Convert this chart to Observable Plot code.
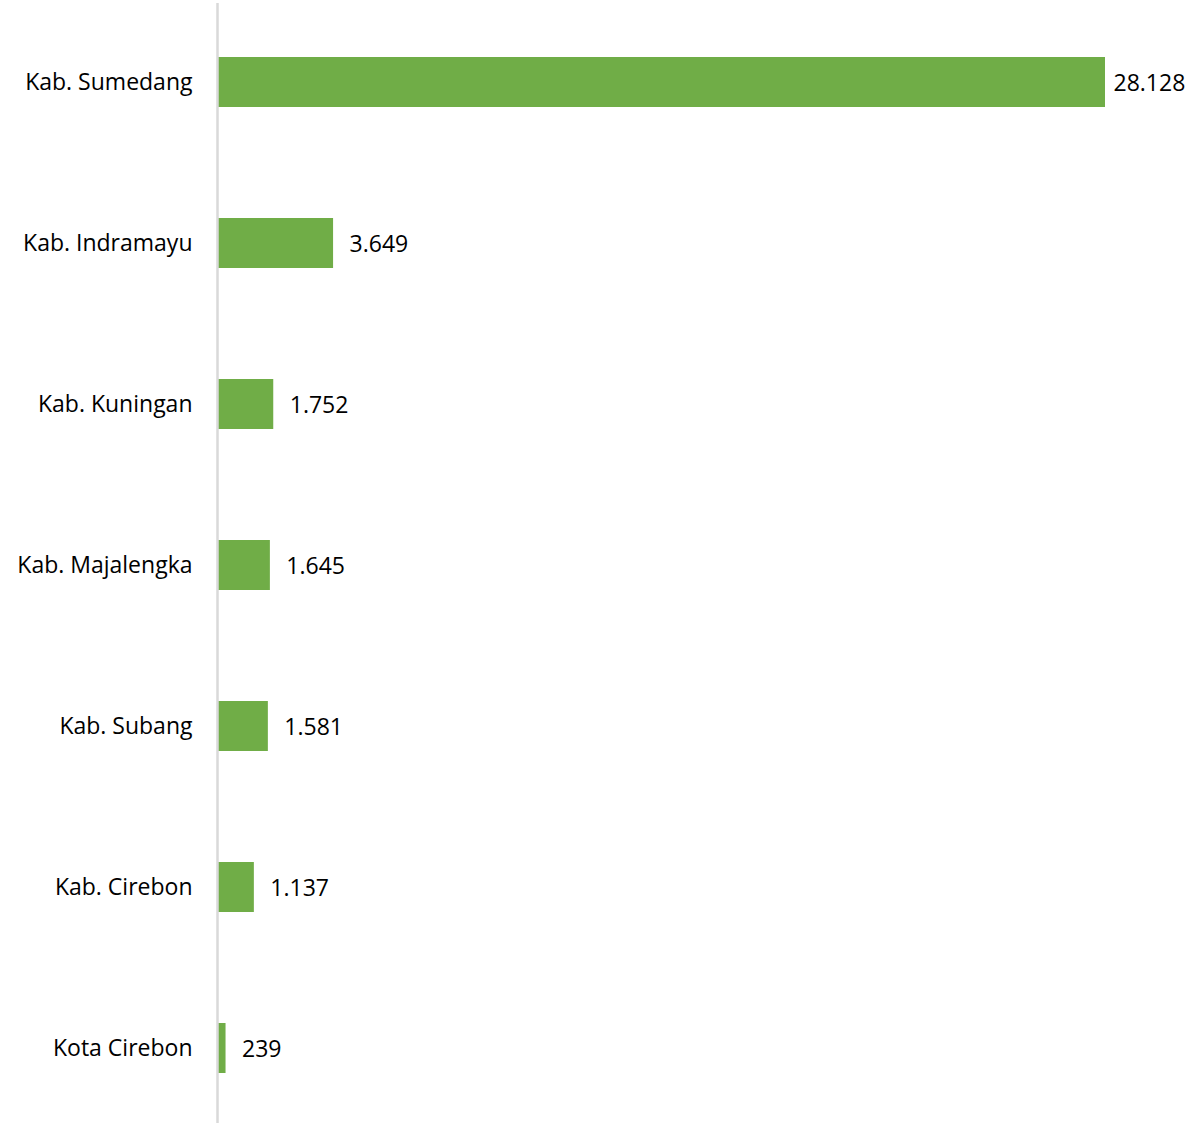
<!DOCTYPE html>
<html>
<head>
<meta charset="utf-8">
<script src="https://cdn.jsdelivr.net/npm/d3@7"></script>
<script src="https://cdn.jsdelivr.net/npm/@observablehq/plot@0.6"></script>
<style>
  html, body { margin: 0; padding: 0; background: #fff; }
  #chart svg { display: block; }
</style>
</head>
<body>
<div id="chart"></div>
<script>
const regions = ["Kab. Sumedang", "Kab. Indramayu", "Kab. Kuningan", "Kab. Majalengka", "Kab. Subang", "Kab. Cirebon", "Kota Cirebon"];
const values = [28128, 3649, 1752, 1645, 1581, 1137, 239];

const data = regions.map((r, i) => ({region: r, value: values[i]}));
const fmt = v => d3.format(",")(v).replace(/,/g, ".");
const maxVal = d3.max(values);

const chart = Plot.plot({
  width: 1193,
  height: 1123,
  marginLeft: 218,
  marginRight: 88,
  marginTop: 3,
  marginBottom: 0,
  style: {fontFamily: "'Open Sans', 'Noto Sans', sans-serif", fontSize: "23px", color: "#000", background: "#fff"},
  x: {domain: [0, maxVal], axis: null},
  y: {domain: regions, range: [1.5, 1128.5], paddingInner: 0.69, paddingOuter: 0.345, label: null, tickSize: 0, tickPadding: 26},
  marks: [
    Plot.barX(data, {x: "value", y: "region", fill: "#70AD47"}),
    Plot.ruleX([0], {stroke: "#d9d9d9", strokeWidth: 2.5, dx: -1}),
    Plot.text(data.filter(d => d.value !== maxVal), {x: "value", y: "region", text: d => fmt(d.value), textAnchor: "start", dx: 16, dy: 1, fill: "#000", fontSize: 23}),
    Plot.text(data.filter(d => d.value === maxVal), {x: "value", y: "region", text: d => fmt(d.value), textAnchor: "start", dx: 8, dy: 1, fill: "#000", fontSize: 23})
  ]
});
chart.querySelectorAll("[aria-label='y-axis tick label'] text").forEach(t => t.setAttribute("fill", "#000"));
document.getElementById("chart").appendChild(chart);
</script>
</body>
</html>
